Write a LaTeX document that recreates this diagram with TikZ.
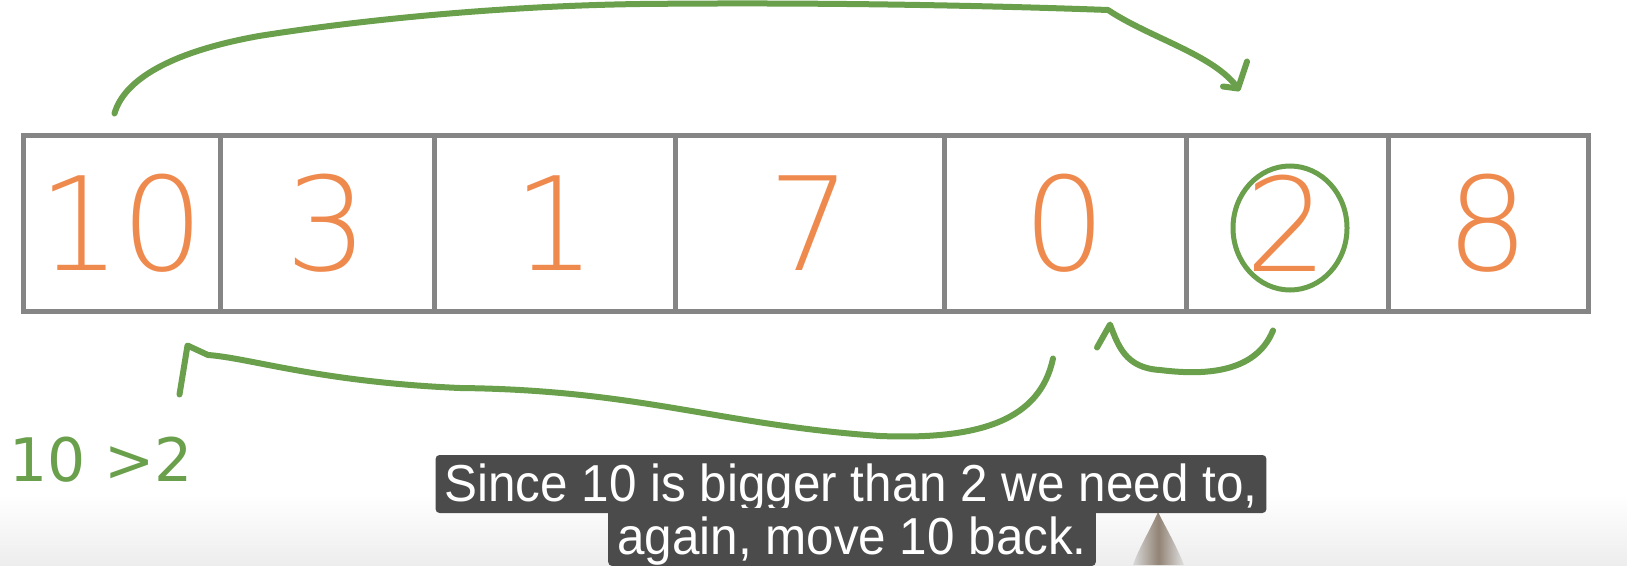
\documentclass[tikz,border=0pt]{standalone}
\usepackage{fontspec}
\usetikzlibrary{shapes.geometric}
\newfontfamily\handfont{DejaVu Sans ExtraLight}
\newfontfamily\notefont{DejaVu Sans}
\newfontfamily\subfont{Liberation Sans}[FakeStretch=0.95]
\definecolor{penorange}{HTML}{EF8A4E}
\definecolor{pengreen}{HTML}{6A9F4C}
\definecolor{boxgray}{HTML}{858585}
\definecolor{subbg}{HTML}{4B4B4B}
\newcommand\cellfont{\handfont\fontsize{130pt}{130pt}\selectfont}
\begin{document}
\begin{tikzpicture}[
    x=1pt, y=-1pt,
    cell/.style={rectangle, draw=boxgray, line width=5pt, minimum height=176pt, inner sep=0pt, text=penorange, font=\cellfont},
    ring/.style={ellipse, draw=pengreen, line width=5pt, minimum width=114pt, minimum height=124pt, inner sep=0pt},
    pen/.style={draw=pengreen, line width=6pt, line cap=round, line join=round},
    sub/.style={fill=subbg, rounded corners=4pt, text=white, inner xsep=9pt, inner ysep=4pt, text height=42pt, text depth=8pt, font=\subfont\fontsize{52pt}{56pt}\selectfont}
]
    \useasboundingbox (0,0) rectangle (1627,565);
    % --- background: bottom fade and pencil ---
    \shade[top color=white, bottom color=black!7] (0,495) rectangle (1627,565);
    \shade[left color=black!15, right color=black!12, middle color=black!62!brown!60] (1158,512) .. controls (1150,530) and (1138,550) .. (1133,565) -- (1184,565) .. controls (1176,545) and (1166,528) .. cycle;

    % --- 1. array ---
    \node[cell, minimum width=197pt] (c1) at (121.5,223) {10};
    \node[cell, minimum width=214pt] (c2) at (327,223) {3};
    \node[cell, minimum width=241pt] (c3) at (554.5,223) {1};
    \node[cell, minimum width=269pt] (c4) at (809.5,223) {7};
    \node[cell, minimum width=242pt] (c5) at (1065,223) {0};
    \node[cell, minimum width=202pt] (c6) at (1287,223) {2};
    \node[cell, minimum width=200pt] (c7) at (1488,223) {8};
    \node[ring] (ring) at (1290,228) {};

    % --- 2. arrows ---
    \coordinate (t0) at ([xshift=-7pt,yshift=19pt]c1.north);
    \coordinate (t1) at ([xshift=-49pt,yshift=44pt]c6.north);
    \draw[pen] (t0) .. controls (124,80) and (170,52) .. (259,36)
        .. controls (360,20) and (500,6) .. (640,4)
        .. controls (830,2) and (1000,6) .. (1108,10)
        .. controls (1150,38) and (1215,55) .. (t1) -- ++(9,-27);
    \draw[pen] (t1) -- ++(-15,-2);

    \coordinate (b0) at ([xshift=-12pt,yshift=-45pt]c5.south);
    \coordinate (b1) at ([xshift=66pt,yshift=-32pt]c1.south);
    \draw[pen] (b0) .. controls (1040,420) and (980,440) .. (880,436)
        .. controls (720,425) and (640,390) .. (460,388)
        .. controls (320,382) and (250,358) .. (208,355) -- (b1) -- ++(-8,49);

    \coordinate (s0) at ([xshift=-14pt,yshift=-17pt]c6.south);
    \coordinate (s1) at ([xshift=45pt,yshift=-11pt]c5.south);
    \draw[pen] (s0) .. controls (1255,375) and (1200,375) .. (1160,370)
        .. controls (1125,368) and (1118,345) .. (s1) -- ++(-13,23);

    % --- 3. texts ---
    \node[text=pengreen, font=\notefont\fontsize{60pt}{60pt}\selectfont] (cmp) at (101,460) {10 >2};
    \node[sub] (sub1) at (851,484) {Since 10 is bigger than 2 we need to,};
    \node[sub] (sub2) at (852,537) {again, move 10 back.};
\end{tikzpicture}
\end{document}
